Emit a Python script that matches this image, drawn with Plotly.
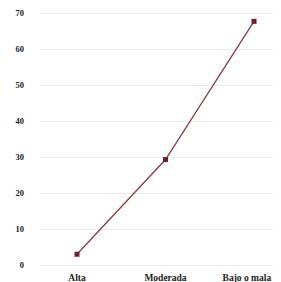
import plotly.graph_objects as go

categories = ["Alta", "Moderada", "Bajo o mala"]
values = [3, 29.3, 67.7]
y_ticks = [0, 10, 20, 30, 40, 50, 60, 70]
x_tick_text = ["Alta", "Moderada", "Bajo o mala" + "&nbsp;" * 6]

fig = go.Figure()
fig.add_trace(go.Scatter(
    x=categories, y=values, mode="lines+markers",
    line=dict(color="#8a3b45", width=1.3),
    marker=dict(symbol="square", size=5, color="#6e1f2c"),
    cliponaxis=False,
))

# page body has an 8px margin, so the figure is sized to fit the 281x282 window
fig.update_layout(
    width=273, height=274,
    margin=dict(l=32, r=0, t=0, b=13),
    paper_bgcolor="white", plot_bgcolor="white",
    showlegend=False,
    font=dict(family="Liberation Serif", size=9, color="#222"),
)
fig.update_xaxes(
    type="category", range=[-0.418, 2.305],
    tickvals=categories, ticktext=x_tick_text,
    showgrid=False, showline=False, zeroline=False, automargin=False,
    tickfont=dict(family="Liberation Serif", size=9.5, color="#222", weight="bold"),
    ticks="", ticklabelstandoff=1,
)
fig.update_yaxes(
    range=[-1.1, 71.4], tickvals=y_ticks,
    showgrid=True, gridcolor="#ececec", gridwidth=1,
    zeroline=True, zerolinecolor="#ececec", zerolinewidth=1,
    showline=False, ticks="", automargin=False,
    tickfont=dict(family="Liberation Serif", size=8.5, color="#222", weight="bold"),
    ticklabelstandoff=15,
)

fig.write_html("out.html")
